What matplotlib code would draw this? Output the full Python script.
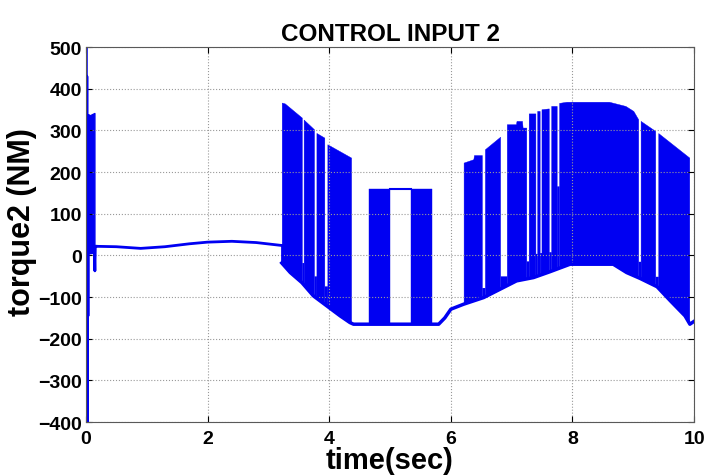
import numpy as np
import matplotlib.pyplot as plt

plt.rcParams['font.family'] = ['Liberation Sans', 'DejaVu Sans']
plt.rcParams['font.weight'] = 'bold'

# start-up transient
t_init = [0.006, 0.006, 0.014, 0.02, 0.026, 0.032, 0.038, 0.044]
u_init = [500, -400, 430, -400, 170, -145, 160, 335]
t_burst0 = [0.045, 0.14]
top_burst0 = [335, 342]
bot_burst0 = [5, 7]
t_spike = [0.14, 0.148, 0.155, 0.165]
u_spike = [7, -37, 22, 22]

# smooth section before the chattering starts
t_smooth = [0.165, 0.5, 0.9, 1.3, 1.7, 2.0, 2.4, 2.8, 3.22]
u_smooth = [22, 21, 17, 21, 28, 32, 34, 31, 24]

# lower envelope of the chattering part
t_low = [3.22, 3.36, 3.55, 3.74, 3.96, 4.18, 4.34, 4.40, 5.80, 5.90, 6.00,
         6.21, 6.54, 6.81, 7.08, 7.36, 7.63, 7.96, 8.67, 8.89, 9.11, 9.39,
         9.61, 9.85, 9.93, 10.0]
u_low = [-18, -41, -65, -97, -121, -145, -161, -165, -165, -150, -129,
         -117, -101, -81, -61, -53, -39, -21, -21, -41, -55, -75,
         -109, -145, -165, -158]

# upper envelope of the chattering part
t_top = [3.22, 3.27, 3.55, 3.56, 3.75, 3.78, 3.92, 3.97, 4.36, 4.66, 5.69,
         6.21, 6.37, 6.38, 6.51, 6.56, 6.81, 6.92, 7.07, 7.08, 7.17, 7.18,
         7.24, 7.27, 7.39, 7.42, 7.46, 7.49, 7.61, 7.64, 7.74, 7.77, 7.90,
         8.60, 8.87, 9.00, 9.08, 9.12, 9.36, 9.40, 9.92]
u_top = [367, 365, 331, 329, 303, 295, 283, 267, 235, 159, 159,
         223, 231, 241, 241, 255, 285, 315, 315, 323, 323, 307,
         307, 341, 341, 347, 347, 351, 353, 359, 359, 366, 369,
         369, 359, 347, 327, 323, 299, 295, 235]

# solid switching blocks (start, end)
blk_start = [3.22, 3.58, 3.79, 3.97, 4.66, 5.35, 6.21, 6.56, 6.92, 7.28,
             7.42, 7.49, 7.65, 7.78, 9.12, 9.41]
blk_end = [3.55, 3.75, 3.92, 4.36, 5.00, 5.69, 6.51, 6.81, 7.24, 7.39,
           7.46, 7.61, 7.74, 9.08, 9.36, 9.92]
# how far down the white slit after each block reaches (nan = open gap)
gap_floor = [-17, -49, -73, np.nan, np.nan, np.nan, -77, -49, -13, 5,
             7, 9, 167, -14, -50, np.nan]

col = (0.0, 0.0, 0.95)

fig = plt.figure(figsize=(7.04, 4.77), dpi=100)
ax = fig.add_axes([0.122, 0.113, 0.864, 0.786])

ax.plot(t_init, u_init, color=col, lw=2.2)
ax.fill_between(t_burst0, bot_burst0, top_burst0, color=col, lw=1)
ax.plot(t_spike, u_spike, color=col, lw=2)
ax.plot(t_smooth, u_smooth, color=col, lw=2)
ax.plot([t_smooth[-1], t_low[0]], [u_smooth[-1], u_low[0]], color=col, lw=2)

ax.plot(t_low, u_low, color=col, lw=2.5)
ax.plot([5.0, 5.35], [160, 160], color=col, lw=1.5)

for i in range(len(blk_start)):
    t0, t1 = blk_start[i], blk_end[i]
    tt = [t0] + [t for t in t_low + t_top if t0 < t < t1] + [t1]
    tt = np.unique(tt)
    ax.fill_between(tt, np.interp(tt, t_low, u_low), np.interp(tt, t_top, u_top),
                    color=col, lw=0.3)
    fl = gap_floor[i]
    if not np.isnan(fl) and i + 1 < len(blk_start):
        g0, g1 = t1, blk_start[i + 1]
        ax.fill_between([g0, g1], np.interp([g0, g1], t_low, u_low), [fl, fl],
                        color=col, lw=0)

ax.set_xlim(0, 10)
ax.set_ylim(-400, 500)
ax.set_xticks(range(0, 11, 2))
ax.set_yticks(range(-400, 501, 100))
ax.grid(True, linestyle=':', color='0.6', lw=0.8)
ax.tick_params(direction='in', top=True, right=True, labelsize=14, length=4)
ax.tick_params(axis='x', pad=6)
ax.tick_params(axis='y', pad=3)
for s in ax.spines.values():
    s.set_color('0.35')

ax.set_title('CONTROL INPUT 2', fontsize=17.5, fontweight='bold', pad=5)
ax.set_xlabel('time(sec)', fontsize=21, fontweight='bold', labelpad=-1)
ax.set_ylabel('torque2 (NM)', fontsize=22, fontweight='bold')
ax.yaxis.set_label_coords(-0.08, 0.535)

fig.savefig('out.png', dpi=100)
